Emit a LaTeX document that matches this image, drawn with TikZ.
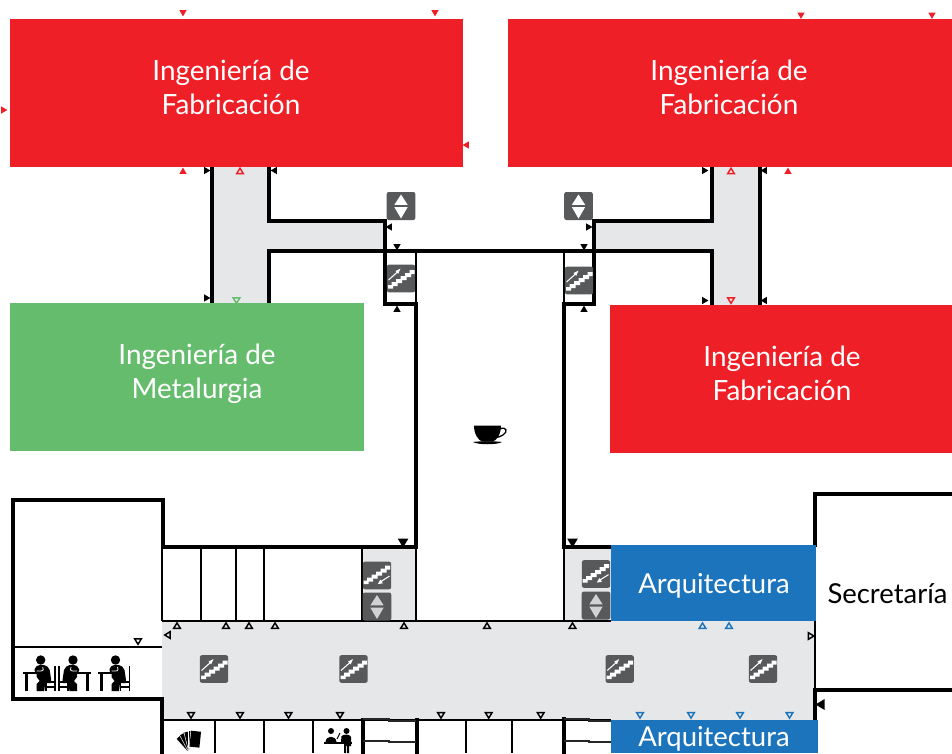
\documentclass[tikz,border=0pt]{standalone}
\usepackage{fontspec}
\setmainfont{Lato}
\definecolor{redbox}{HTML}{EE1F26}
\definecolor{greenbox}{HTML}{66BC6D}
\definecolor{bluebox}{HTML}{1C75BC}
\definecolor{corridor}{HTML}{E6E7E8}
\definecolor{iconbg}{HTML}{58595B}
\tikzset{
  room/.style={inner sep=0pt,outer sep=0pt,anchor=north west},
  boxlabel/.style={text=white,font=\fontsize{20.9}{25.5}\selectfont,align=center},
  shortlabel/.style={font=\fontsize{20.6}{25.5}\selectfont,align=center},
  thick wall/.style={line width=2.7pt,line cap=rect,line join=miter,draw=black},
  mid wall/.style={line width=1.8pt,draw=black},
  thin wall/.style={line width=1.2pt,draw=black},
  tick wall/.style={line width=1.1pt,draw=black!85},
  solidmark/.style={fill=#1,draw=none}
}
% triangles: 0 up, 180 down, 90 left, -90 right
\newcommand{\tri}[4]{\path[solidmark=#4,shift={(#1,#2)},rotate=#3] (0,-3.4)--(3.6,2.8)--(-3.6,2.8)--cycle;}
\newcommand{\trio}[4]{\path[draw=#4,line width=1.1pt,line join=miter,shift={(#1,#2)},rotate=#3] (0,-2.8)--(3.3,2.6)--(-3.3,2.6)--cycle;}
\newcommand{\trib}[4]{\path[solidmark=#4,shift={(#1,#2)},rotate=#3] (0,-5)--(5.4,4)--(-5.4,4)--cycle;}
\newcommand{\stairsteps}{%
  \fill[white] (-13,10)--(-13,6.5)--(-9.5,6.5)--(-9.5,3.5)--(-5,3.5)--(-5,.5)--(-.5,.5)--(-.5,-2.5)--(4,-2.5)--(4,-5.5)--(8.5,-5.5)--(8.5,-8.5)--(13.5,-8.5)--(13.5,-4.5)--(10,-4.5)--(10,-1.5)--(5.5,-1.5)--(5.5,1.5)--(1,1.5)--(1,4.5)--(-3.5,4.5)--(-3.5,7.5)--(-8,7.5)--(-8,10)--cycle;}
\newcommand{\stairup}[2]{\begin{scope}[shift={(#1,#2)}]
  \fill[iconbg,rounded corners=1.6pt] (-14.2,-13.8) rectangle (14.2,13.8);
  \stairsteps
  \draw[white,line width=.8pt] (-12.5,1.5)--(-3.5,-6.5);
  \fill[white] (-.5,-10)--(-5.5,-7.4)--(-2.8,-4.6)--cycle;
\end{scope}}
\newcommand{\stairdown}[2]{\begin{scope}[shift={(#1,#2)}]
  \fill[iconbg,rounded corners=1.6pt] (-14.2,-13.8) rectangle (14.2,13.8);
  \begin{scope}[shift={(-.3,-1.5)}]\stairsteps\end{scope}
  \draw[white,line width=.8pt] (12.5,.6)--(4,6);
  \fill[white] (.8,8.6)--(5.8,7.8)--(3.4,4)--cycle;
\end{scope}}
\newcommand{\lift}[3]{\begin{scope}[shift={(#1,#2)}]
  \fill[iconbg,rounded corners=1.6pt] (-14.3,-14) rectangle (14.3,14);
  \fill[#3] (0,-11.5)--(6.6,-1.2)--(-6.6,-1.2)--cycle;
  \fill[#3] (0,12.5)--(6.6,1.2)--(-6.6,1.2)--cycle;
\end{scope}}
% seated figure, table on the left for xscale=1; origin at head
\newcommand{\seated}[3]{\begin{scope}[shift={(#1,#2)},xscale=#3]
  \fill (0,0) circle (4.7);
  \fill (-4,6)..controls (0,4) and (7,4) .. (9,10)--(10.5,20)--(10,23)--(4.5,23)--(3.5,31)--(-4,31)--(-4,24)--(-1,21)--(-4,17)--(-4,13)--(-6,11)--(-6,9)--cycle;
  \draw[white,line width=.6pt] (-4,11)--(0,11)..controls (3,11) and (3,9) .. (2,7);
  \fill (-18,12) rectangle (1,14.2);
  \fill (-15.8,14) rectangle (-12.8,31);
  \draw[line width=1.2pt] (14,6)--(14,31) (6,22)--(14,22) (5,31)--(5,22);
  \draw[line width=.8pt] (5,27)--(14,27);
\end{scope}}
\begin{document}
\begin{tikzpicture}[x=.75pt,y=-.75pt]
\useasboundingbox (0,0) rectangle (952,753);
\fill[white] (0,0) rectangle (952,753);
% corridors
\fill[corridor] (212,160)--(269,160)--(269,221)--(385,221)--(385,251)--(269,251)--(269,310)--(212,310)--cycle;
\fill[corridor] (760,160)--(712,160)--(712,221)--(594,221)--(594,251)--(712,251)--(712,310)--(760,310)--cycle;
\fill[corridor] (162,621) rectangle (815,720);
\fill[corridor] (362,547) rectangle (416,621);
\fill[corridor] (564,547) rectangle (612,621);
% upper walls
\draw[thick wall] (212,167)--(212,303);
\draw[thick wall] (269,167)--(269,221)--(385,221)--(385,304)--(416,304)--(416,547)--(163,547)--(163,500)--(13,500)--(13,699)--(162,699)--(162,753);
\draw[thick wall] (269,303)--(269,251)--(712,251)--(712,305);
\draw[thick wall] (760,167)--(760,305);
\draw[thick wall] (712,167)--(712,221)--(594,221)--(594,304)--(564,304)--(564,547)--(611,547);
\draw[thin wall] (416,251)--(416,304) (564,251)--(564,304);
% lower walls
\draw[mid wall] (13,647)--(162,647);
\draw[thin wall] (162,547)--(162,621);
\draw[mid wall] (201,547)--(201,621) (362,547)--(362,621);
\draw[thin wall] (236,547)--(236,621) (264,547)--(264,621);
\draw[thin wall] (416,547)--(416,621) (564,547)--(564,621);
\draw[thin wall] (162,621)--(611,621);
\draw[thin wall] (162,720)--(611,720);
\draw[thin wall] (215,720)--(215,753) (264,720)--(264,753) (313,720)--(313,753) (466,720)--(466,753) (512,720)--(512,753);
\draw[thick wall] (363,720)--(363,753) (417,720)--(417,753) (564,719)--(564,753);
\draw[tick wall] (363,719)--(389,719)--(389,721)--(416,721) (363,741)--(389,741)--(389,742)--(416,742);
\draw[tick wall] (564,719)--(589,719)--(589,721)--(611,721) (564,741)--(589,741)--(589,742)--(611,742);
\draw[thin wall] (815,621)--(815,690);
\draw[thick wall] (815,545)--(815,494)--(952,494) (952,690)--(815,690)--(815,720);
% department boxes
\node[room,fill=redbox,minimum width=339.75pt,minimum height=111pt] (r1) at (10,19) {};
\node[room,fill=redbox,minimum width=333pt,minimum height=111pt] (r2) at (508,19) {};
\node[room,fill=redbox,minimum width=256.5pt,minimum height=111pt] (r3) at (610,305) {};
\node[room,fill=greenbox,minimum width=265.5pt,minimum height=111pt] (g1) at (10,303) {};
\node[room,fill=bluebox,minimum width=153.75pt,minimum height=57pt] (b1) at (611,545) {};
\node[room,fill=bluebox,minimum width=155.25pt,minimum height=24.75pt] (b2) at (611,720) {};
\node[boxlabel] (tr1) at (231,87.7) {Ingeniería de\\Fabricación};
\node[boxlabel] (tr2) at (729,87.7) {Ingeniería de\\Fabricación};
\node[boxlabel] (tr3) at (782,373.7) {Ingeniería de\\Fabricación};
\node[boxlabel] (tg1) at (197,373.7) {Ingeniería de\\Metalurgia};
\node[boxlabel,shortlabel] (tb1) at (714,586) {Arquitectura};
\node[boxlabel,shortlabel] (tb2) at (714,739) {Arquitectura};
\node[shortlabel,text=black] (ts) at (887.5,593.5) {Secretaría};
% icons
\lift{401}{206}{white}
\lift{578.5}{206}{white}
\stairup{401}{278.5}
\stairup{579}{280.5}
\stairdown{377}{575.5}
\lift{377}{606.5}{corridor!85!iconbg}
\stairdown{596}{574}
\lift{596}{605.5}{corridor!85!iconbg}
\stairup{214}{669}
\stairup{353.5}{669}
\stairup{619.7}{669}
\stairup{763}{669}
% red marks
\tri{183}{13}{180}{redbox}
\tri{435}{13}{180}{redbox}
\tri{801}{15.5}{180}{redbox}
\tri{932}{15.5}{180}{redbox}
\tri{4}{110}{-90}{redbox}
\tri{466}{145}{90}{redbox}
\tri{183}{171}{0}{redbox}
\tri{788}{171}{0}{redbox}
\trio{240}{171}{0}{redbox}
\trio{731}{171}{0}{redbox}
\trio{731}{300.5}{180}{redbox}
\trio{236.5}{300.5}{180}{greenbox}
% black solid marks
\tri{207}{170.5}{-90}{black}
\tri{207}{298}{-90}{black}
\tri{274}{170.5}{90}{black}
\tri{705}{170.5}{-90}{black}
\tri{764}{170.5}{90}{black}
\tri{705}{300.5}{-90}{black}
\tri{764}{300.5}{90}{black}
\tri{389}{227}{90}{black}
\tri{397}{247}{180}{black}
\tri{397}{309}{0}{black}
\tri{589}{227}{-90}{black}
\tri{584}{247}{180}{black}
\tri{584}{309}{0}{black}
\trib{403}{542.5}{180}{black}
\trib{572.5}{542.5}{180}{black}
\trib{820.5}{704.5}{90}{black}
% black open marks
\foreach \x in {177,226,249,275,404,487,572.5}{\trio{\x}{625.7}{0}{black}}
\trio{167.5}{635}{90}{black}
\trio{138}{641.5}{180}{black}
\trio{811}{636}{-90}{black}
\foreach \x in {191,240,288.5,340,441,488.7,540.7}{\trio{\x}{715.3}{180}{black}}
% blue marks
\foreach \x in {702.5,729}{\trio{\x}{625.7}{0}{bluebox}}
\foreach \x in {640,691,740,789.5}{\trio{\x}{715.3}{180}{bluebox}}
% coffee cup
\fill (474,425.5)--(501,425.5)..controls (501,434) and (497,440) .. (493,441.5)--(482,441.5)..controls (478,440) and (474,434) .. cycle;
\draw[line width=1pt] (499.5,429)..controls (507,426) and (508,432) .. (503,435)..controls (501,436.5) and (498,437) .. (496,437.5);
\fill (473,442)..controls (480,441) and (495,441) .. (502,442)..controls (497,445) and (478,445) .. cycle;
% people
\seated{40.7}{660}{1}
\seated{73}{660}{-1}
\seated{115.5}{660}{1}
% card stack
\foreach \a in {42,28,14,0,-6}{
  \fill[white,rotate around={\a:(193,751)}] (188.4,730.4) rectangle (199.6,747.6);
  \fill[black,rotate around={\a:(193,751)}] (189,731) rectangle (199,747);
}
% reception figures
\begin{scope}[shift={(331,736)}]
\fill (0,-5) circle (3);
\fill (-5.5,6)..controls (-5,-1) and (5,-1) .. (5.5,6)--cycle;
\fill (15.5,-5) circle (3);
\fill (10,6)--(10.5,0)..controls (13,-2) and (19,-2) .. (20,1)--(20,10)--(18,10)--(18,17)--(16,17)--(16,10)--(15,10)--(15,17)--(13,17)--(13,6)--cycle;
\fill (-7,6) rectangle (21,7.6);
\draw[line width=.8pt] (6,3)--(9,-3);
\end{scope}
\end{tikzpicture}
\end{document}
